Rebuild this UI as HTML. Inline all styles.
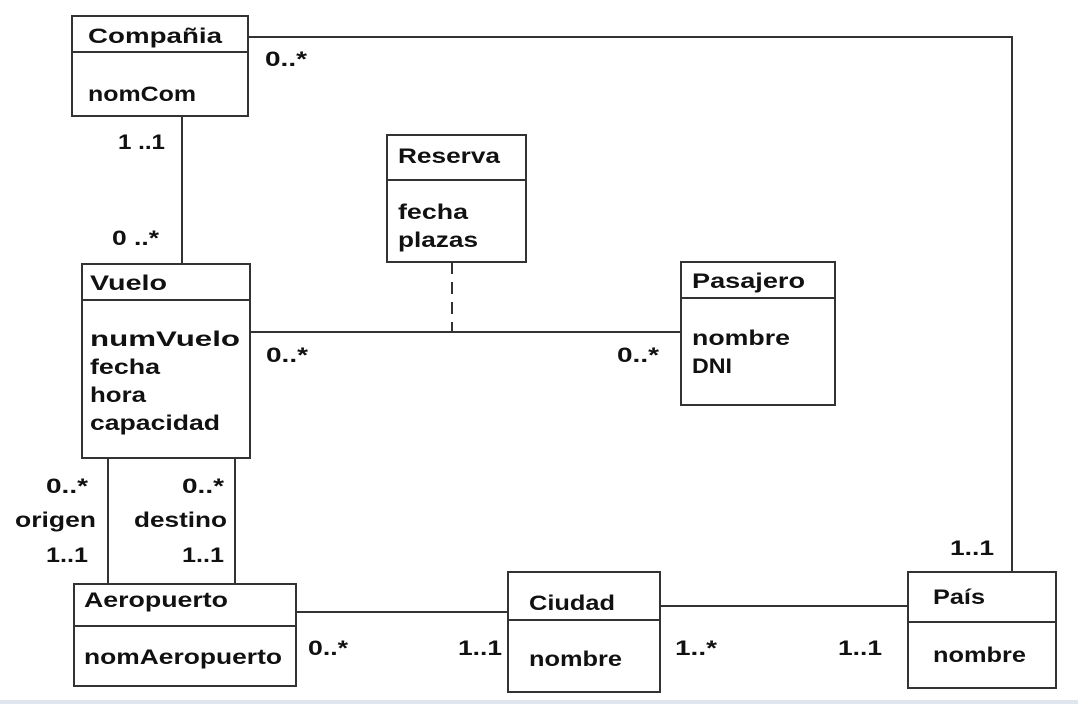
<!DOCTYPE html>
<html><head><meta charset="utf-8"><style>
html,body{margin:0;padding:0;background:#fff;}
svg text{font-family:"Liberation Sans",Arial,sans-serif;font-weight:bold;font-size:21px;fill:#111;}
</style></head><body>
<svg width="1078" height="704" viewBox="0 0 1078 704" xmlns="http://www.w3.org/2000/svg">
<rect x="0" y="0" width="1078" height="704" fill="#fff"/>
<rect x="0" y="700" width="1078" height="4" fill="#dfe6ee"/>
<g stroke="#333" stroke-width="2" fill="none">
<polyline points="248,37 1012,37 1012,572"/>
<line x1="182" y1="116" x2="182" y2="264"/>
<line x1="250" y1="332" x2="681" y2="332"/>
<line x1="452" y1="262" x2="452" y2="332" stroke-dasharray="12,8"/>
<line x1="108" y1="458" x2="108" y2="584"/>
<line x1="235" y1="458" x2="235" y2="584"/>
<line x1="296" y1="612" x2="508" y2="612"/>
<line x1="660" y1="606" x2="908" y2="606"/>
<rect x="72" y="16" width="176" height="100"/><line x1="72" y1="52" x2="248" y2="52"/>
<rect x="82" y="264" width="168" height="194"/><line x1="82" y1="300" x2="250" y2="300"/>
<rect x="387" y="135" width="139" height="127"/><line x1="387" y1="180" x2="526" y2="180"/>
<rect x="681" y="262" width="154" height="143"/><line x1="681" y1="298" x2="835" y2="298"/>
<rect x="74" y="584" width="222" height="102"/><line x1="74" y1="626" x2="296" y2="626"/>
<rect x="508" y="572" width="152" height="120"/><line x1="508" y1="620" x2="660" y2="620"/>
<rect x="908" y="572" width="148" height="116"/><line x1="908" y1="622" x2="1056" y2="622"/>
</g>
<text x="88" y="43" textLength="134" lengthAdjust="spacingAndGlyphs">Compañia</text>
<text x="88" y="101" textLength="108" lengthAdjust="spacingAndGlyphs">nomCom</text>
<text x="265" y="66" textLength="42" lengthAdjust="spacingAndGlyphs">0..*</text>
<text x="118" y="149" textLength="47" lengthAdjust="spacingAndGlyphs">1 ..1</text>
<text x="112" y="245" textLength="47" lengthAdjust="spacingAndGlyphs">0 ..*</text>
<text x="90" y="290" textLength="77" lengthAdjust="spacingAndGlyphs">Vuelo</text>
<text x="90" y="346" textLength="150" lengthAdjust="spacingAndGlyphs">numVuelo</text>
<text x="90" y="374" textLength="70" lengthAdjust="spacingAndGlyphs">fecha</text>
<text x="90" y="402" textLength="56" lengthAdjust="spacingAndGlyphs">hora</text>
<text x="90" y="430" textLength="130" lengthAdjust="spacingAndGlyphs">capacidad</text>
<text x="398" y="163" textLength="102" lengthAdjust="spacingAndGlyphs">Reserva</text>
<text x="398" y="219" textLength="70" lengthAdjust="spacingAndGlyphs">fecha</text>
<text x="398" y="247" textLength="80" lengthAdjust="spacingAndGlyphs">plazas</text>
<text x="692" y="288" textLength="113" lengthAdjust="spacingAndGlyphs">Pasajero</text>
<text x="692" y="345" textLength="98" lengthAdjust="spacingAndGlyphs">nombre</text>
<text x="692" y="373" textLength="40" lengthAdjust="spacingAndGlyphs">DNI</text>
<text x="266" y="362" textLength="42" lengthAdjust="spacingAndGlyphs">0..*</text>
<text x="617" y="362" textLength="42" lengthAdjust="spacingAndGlyphs">0..*</text>
<text x="46" y="493" textLength="42" lengthAdjust="spacingAndGlyphs">0..*</text>
<text x="182" y="493" textLength="42" lengthAdjust="spacingAndGlyphs">0..*</text>
<text x="15" y="527" textLength="81" lengthAdjust="spacingAndGlyphs">origen</text>
<text x="134" y="527" textLength="93" lengthAdjust="spacingAndGlyphs">destino</text>
<text x="46" y="562" textLength="42" lengthAdjust="spacingAndGlyphs">1..1</text>
<text x="182" y="562" textLength="42" lengthAdjust="spacingAndGlyphs">1..1</text>
<text x="84" y="607" textLength="144" lengthAdjust="spacingAndGlyphs">Aeropuerto</text>
<text x="84" y="664" textLength="198" lengthAdjust="spacingAndGlyphs">nomAeropuerto</text>
<text x="308" y="655" textLength="40" lengthAdjust="spacingAndGlyphs">0..*</text>
<text x="458" y="655" textLength="44" lengthAdjust="spacingAndGlyphs">1..1</text>
<text x="529" y="610" textLength="86" lengthAdjust="spacingAndGlyphs">Ciudad</text>
<text x="529" y="666" textLength="93" lengthAdjust="spacingAndGlyphs">nombre</text>
<text x="675" y="655" textLength="42" lengthAdjust="spacingAndGlyphs">1..*</text>
<text x="838" y="655" textLength="44" lengthAdjust="spacingAndGlyphs">1..1</text>
<text x="950" y="555" textLength="44" lengthAdjust="spacingAndGlyphs">1..1</text>
<text x="933" y="604" textLength="52" lengthAdjust="spacingAndGlyphs">País</text>
<text x="933" y="662" textLength="93" lengthAdjust="spacingAndGlyphs">nombre</text>
</svg>
</body></html>
